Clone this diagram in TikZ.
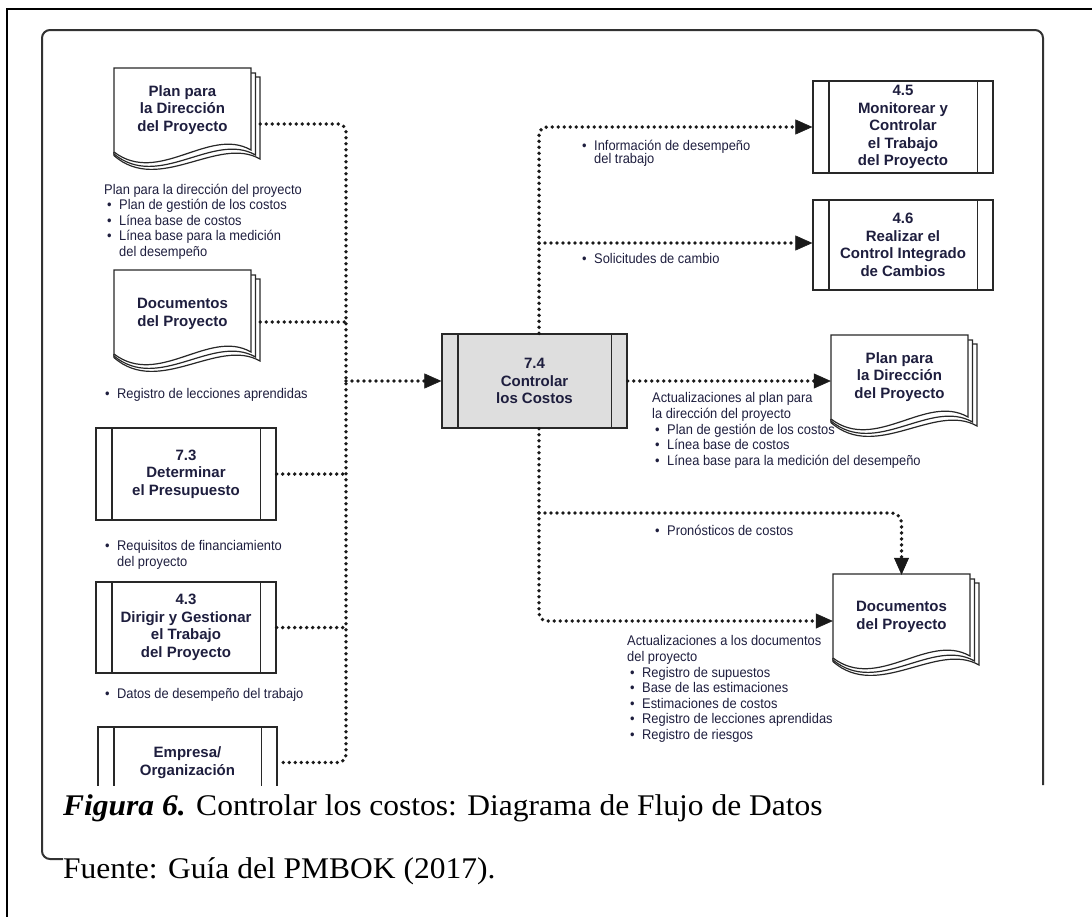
\documentclass[tikz,border=0pt]{standalone}
\usepackage{fontspec}
\setmainfont[FakeStretch=1.05]{Liberation Serif}
\newfontfamily\lblfont[FakeStretch=0.92]{Liberation Sans}
\newfontfamily\ttlfont{Liberation Sans}
\usetikzlibrary{arrows.meta}
\definecolor{ink}{RGB}{30,30,62}
\definecolor{edge}{RGB}{40,40,40}
\definecolor{procfill}{RGB}{222,222,222}
\definecolor{framegray}{RGB}{50,50,50}

% bullet item and continuation line for the data labels
\newcommand\bl[1]{\hspace*{3pt}\makebox[12pt][l]{\textbullet}#1}
\newcommand\cont[1]{\hspace*{15pt}#1}

% stacked document icon, top-left corner of the front page at (#1,#2)
\newcommand\docpages[2]{%
  \foreach \dx/\dy in {9/9, 4.5/5}{%
    \filldraw[docline, fill=white] ({#1+137},{#2+\dy}) -- ({#1+137+\dx},{#2+\dy})
      -- ({#1+137+\dx},{#2+82+\dy})
      .. controls ({#1+95+\dx},{#2+58+\dy}) and ({#1+45},{#2+118+\dy}) .. ({#1},{#2+84+0.4*\dy})
      -- ({#1},{#2+84});
  }
  \filldraw[docline, fill=white] (#1,#2) -- ({#1+137},#2) -- ({#1+137},{#2+82})
    .. controls ({#1+95},{#2+58}) and ({#1+45},{#2+118}) .. ({#1},{#2+84}) -- cycle;
}

% the two inner bars of a process box
\newcommand\sidebars[2]{%
  \draw[draw=edge, line width=1.3pt]
    ([xshift=#2pt]#1.north west) -- ([xshift=#2pt]#1.south west)
    ([xshift=-#2pt]#1.north east) -- ([xshift=-#2pt]#1.south east);
}

\begin{document}
\begin{tikzpicture}[x=1pt,y=-1pt,
  flow/.style={draw=black!90, line width=3.8pt, line cap=round, dash pattern=on 0pt off 6pt},
  tip/.style={-{Triangle[length=17pt,width=15pt,line width=0.6pt]}},
  proc/.style={draw=edge, line width=1.3pt, fill=white, minimum width=180pt, minimum height=92pt,
    inner sep=0pt, align=center, text=ink, font=\ttlfont\bfseries\fontsize{15}{17.5}\selectfont},
  doctext/.style={minimum width=137pt, minimum height=84pt, inner sep=0pt, align=center, text=ink,
    font=\ttlfont\bfseries\fontsize{15}{17.5}\selectfont},
  docline/.style={draw=edge, line width=1.2pt},
  lbl/.style={anchor=north west, inner sep=0pt, align=left, text=ink,
    font=\lblfont\fontsize{14}{15.6}\selectfont},
  frame/.style={draw=framegray, line width=2pt, rounded corners=8pt},
]
\useasboundingbox (0,0) rectangle (1092,916);

% page frames
\draw[line width=2.5pt] (7,917) -- (7,9) -- (1093,9);
\draw[frame] (63,859) -- (42,859) -- (42,30) -- (1043,30) -- (1043,785);

% ---------- inputs ----------
\docpages{114}{68}
\node[doctext] (planL) at (182.5,110) {Plan para\\la Dirección\\del Proyecto};
\node[lbl] (lblPlan) at (104,183.5) {Plan para la dirección del proyecto\\
  \bl{Plan de gestión de los costos}\\
  \bl{Línea base de costos}\\
  \bl{Línea base para la medición}\\
  \cont{del desempeño}};

\docpages{114}{270}
\node[doctext] (docsL) at (182.5,314) {Documentos\\del Proyecto};
\node[lbl] (lblDocsL) at (102,388.5) {\bl{Registro de lecciones aprendidas}};

\node[proc] (p73) at (186,474) {7.3\\Determinar\\el Presupuesto};
\sidebars{p73}{16.5}
\node[lbl] (lbl73) at (102,540.5) {\bl{Requisitos de financiamiento}\\\cont{del proyecto}};

\node[proc, minimum height=91pt] (p43) at (186,627.5) {4.3\\Dirigir y Gestionar\\el Trabajo\\del Proyecto};
\sidebars{p43}{16.5}
\node[lbl] (lbl43) at (102,688.5) {\bl{Datos de desempeño del trabajo}};

\begin{scope}
  \clip (0,0) rectangle (1092,785);
  \node[proc, minimum width=179pt, minimum height=71pt] (pEmp) at (187.5,762.5) {Empresa/\\Organización};
  \sidebars{pEmp}{16.5}
\end{scope}

% ---------- process ----------
\node[proc, fill=procfill, minimum width=185pt, minimum height=94pt] (p74) at (534.5,381) {7.4\\Controlar\\los Costos};
\sidebars{p74}{16.5}

% ---------- outputs ----------
\node[proc] (p45) at (903,127) {4.5\\Monitorear y\\Controlar\\el Trabajo\\del Proyecto};
\sidebars{p45}{16.5}
\node[lbl, font=\lblfont\fontsize{14}{13.5}\selectfont] (lblInfo) at (579,139.5) {\bl{Información de desempeño}\\\cont{del trabajo}};

\node[proc, minimum height=90pt] (p46) at (903,245) {4.6\\Realizar el\\Control Integrado\\de Cambios};
\sidebars{p46}{16.5}
\node[lbl] (lblSol) at (579,253.5) {\bl{Solicitudes de cambio}};

\docpages{831}{335}
\node[doctext] (planR) at (899.5,377) {Plan para\\la Dirección\\del Proyecto};
\node[lbl] (lblAct) at (652,392.5) {Actualizaciones al plan para\\
  la dirección del proyecto\\
  \bl{Plan de gestión de los costos}\\
  \bl{Línea base de costos}\\
  \bl{Línea base para la medición del desempeño}};

\node[lbl] (lblPron) at (652,524.5) {\bl{Pronósticos de costos}};

\docpages{833}{574}
\node[doctext] (docsR) at (901.5,617) {Documentos\\del Proyecto};
\node[lbl] (lblActDoc) at (627,635.5) {Actualizaciones a los documentos\\
  del proyecto\\
  \bl{Registro de supuestos}\\
  \bl{Base de las estimaciones}\\
  \bl{Estimaciones de costos}\\
  \bl{Registro de lecciones aprendidas}\\
  \bl{Registro de riesgos}};

% ---------- input bus ----------
\coordinate (lbT) at (346,124);
\coordinate (lbB) at (346,762.5);
\coordinate (lbD) at (346,322);
\coordinate (planLo) at ([xshift=9pt]planL.east);
\coordinate (docsLo) at ([xshift=9pt]docsL.east);
\draw[flow, rounded corners=8pt] (planLo |- lbT) -- (lbT) -- (lbB) -- (pEmp.east);
\draw[flow] (docsLo |- lbD) -- (lbD);
\draw[flow] (p73.east) -- (p73.east -| lbT);
\draw[flow] (p43.east) -- (p43.east -| lbT);
\draw[flow, tip] (p74.west -| lbT) -- (p74.west);

% ---------- output bus ----------
\coordinate (rbT) at (539,127);
\coordinate (rbB) at (539,621);
\coordinate (rbS) at (539,243);
\coordinate (rbP) at (539,513);
\draw[flow, tip, rounded corners=8pt] (rbT |- p74.north) -- (rbT) -- (p45.west);
\draw[flow, tip] (rbS) -- (rbS -| p46.west);
\draw[flow, tip, rounded corners=8pt] (rbT |- p74.south) -- (rbB) -- (rbB -| docsR.west);
\draw[flow, tip, rounded corners=10pt] (rbP) -- (rbP -| docsR.north) -- (docsR.north);
\draw[flow, tip] (p74.east) -- (p74.east -| planR.west);

% ---------- caption ----------
\node[anchor=base west, inner sep=0pt, font=\fontsize{30}{34}\selectfont] (cap) at (63,815)
  {\textbf{\textit{Figura 6.}} Controlar los costos: Diagrama de Flujo de Datos};
\node[anchor=base west, inner sep=0pt, font=\fontsize{30}{34}\selectfont] (src) at (63,878)
  {Fuente: Guía del PMBOK (2017).};
\end{tikzpicture}
\end{document}
